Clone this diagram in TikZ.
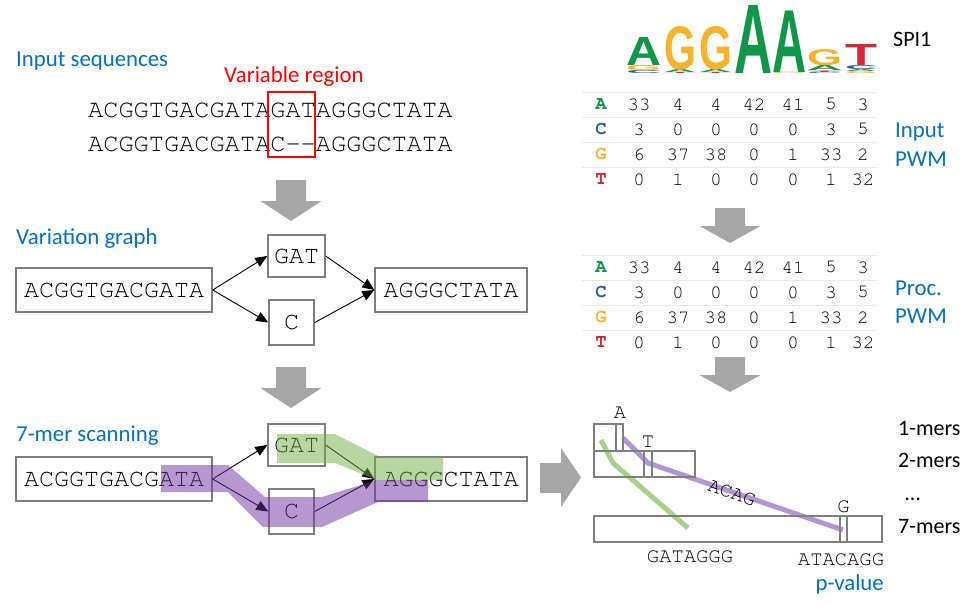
\documentclass[tikz,border=0pt]{standalone}
\usepackage[T1,TU]{fontenc}
\usepackage{fontspec}
\usepackage{graphicx}
\setmainfont{Carlito}
\newfontfamily\logofont{Liberation Sans}
\usetikzlibrary{arrows.meta}
\definecolor{labelblue}{RGB}{0,112,192}
\definecolor{varred}{RGB}{255,0,0}
\definecolor{boxgray}{RGB}{127,127,127}
\definecolor{arrowgray}{RGB}{166,166,166}
\definecolor{rulegray}{RGB}{232,232,232}
\definecolor{nucA}{RGB}{16,150,72}
\definecolor{nucC}{RGB}{37,92,153}
\definecolor{nucG}{RGB}{247,179,43}
\definecolor{nucT}{RGB}{214,40,57}
\definecolor{pathgreen}{RGB}{112,173,71}
\definecolor{pathpurple}{RGB}{112,48,160}
\definecolor{tracegreen}{RGB}{169,209,142}
\definecolor{tracepurple}{RGB}{178,150,210}
\newcommand\seqfont{\fontencoding{T1}\fontfamily{pcr}}

\begin{document}
\begin{tikzpicture}[x=1pt, y=-1pt,
    seqbox/.style={draw=boxgray, line width=1.4pt, minimum height=44pt, inner sep=0pt, font=\seqfont\fontsize{25}{30}\selectfont},
    edge/.style={-{Triangle[length=12pt,width=10pt]}, line width=0.9pt},
    steplabel/.style={text=labelblue, font=\fontsize{22.8}{27}\selectfont, anchor=base west, inner sep=0pt},
    sidelabel/.style={font=\fontsize{22}{26}\selectfont, anchor=base west, inner sep=0pt},
    seqtext/.style={font=\seqfont\fontsize{25.3}{30}\selectfont, anchor=base west, inner sep=0pt},
    pwmtext/.style={font=\seqfont\fontsize{18.9}{22}\selectfont, inner sep=0pt},
    kmertext/.style={font=\seqfont\fontsize{20.5}{24}\selectfont, anchor=base, inner sep=0pt},
    kbox/.style={draw=boxgray, line width=1.4pt},
    trace/.style={line width=5pt},
    blockarrow/.style={fill=arrowgray},
    logo/.style={inner sep=0pt, anchor=south west, font=\logofont\bfseries}]
\useasboundingbox (0,0) rectangle (975,613);

% input sequences
\node[steplabel] (inputlabel) at (16,66) {Input sequences};
\node[steplabel, text=varred] (varlabel) at (224,82) {Variable region};
\node[seqtext] (seqone) at (88,117) {ACGGTGACGATAGATAGGGCTATA};
\node[seqtext] (seqtwo) at (88,151) {ACGGTGACGATAC{-}{-}AGGGCTATA};
\node[draw=varred, line width=2pt, minimum width=47pt, minimum height=65pt] (varbox) at (291.5,124.5) {};

% down arrows
\foreach \ax/\ay/\sh/\hd in {291/180/21/20, 291/367/21/20, 730/208/18/17, 730/357/18/17}
  \fill[blockarrow] (\ax-15,\ay) -- (\ax+15,\ay) -- (\ax+15,\ay+\sh) -- (\ax+30.5,\ay+\sh)
    -- (\ax,\ay+\sh+\hd) -- (\ax-30.5,\ay+\sh) -- (\ax-15,\ay+\sh) -- cycle;
\fill[blockarrow] (540,463) -- (561,463) -- (561,448) -- (581,477.5) -- (561,507) -- (561,493) -- (540,493) -- cycle;

% variation graph and 7-mer scanning
\node[steplabel] (graphlabel) at (16,244) {Variation graph};
\node[steplabel] (scanlabel) at (16,441) {7-mer scanning};
\foreach \rw/\oy in {var/0, scan/189} {
  \node[seqbox, minimum width=196pt] (\rw-left) at (114,290+\oy) {ACGGTGACGATA};
  \node[seqbox, minimum width=57pt, minimum height=42pt] (\rw-gat) at (296.5,256+\oy) {GAT};
  \node[seqbox, minimum width=45pt, minimum height=45pt] (\rw-c) at (291.5,322.5+\oy) {C};
  \node[seqbox, minimum width=152pt] (\rw-right) at (451,290+\oy) {AGGGCTATA};
  \draw[edge] (\rw-left.east) -- (\rw-gat.west);
  \draw[edge] (\rw-left.east) -- (\rw-c.west);
  \draw[edge] (\rw-gat.east) -- (\rw-right.west);
  \draw[edge] (\rw-c.east) -- (\rw-right.west);
}
\fill[pathgreen, opacity=0.5] (277,434) -- (335,434) -- (380,457) -- (443,457) -- (443,480)
  -- (377,480) -- (335,463) -- (277,463) -- cycle;
\fill[pathpurple, opacity=0.5] (161,465) -- (228,465) -- (265,497) -- (322,497) -- (377,480)
  -- (428,480) -- (428,502) -- (378,502) -- (322,527) -- (263,527) -- (228,492) -- (161,492) -- cycle;

% motif logo
\foreach \lx/\ly/\lw/\lh/\lc/\lt [count=\i] in {
    626/74/35/3/nucC/C, 626/71/35/5/nucG/G, 626/66/35/28/nucA/A,
    664/74/32/1/nucT/T, 664/73/32/3/nucA/A, 664/70/32/43/nucG/G,
    699/74/33/1/nucT/T, 699/73/33/3/nucA/A, 699/70/33/43/nucG/G,
    734/74/38/68/nucA/A,
    772/74/34/1.5/nucG/G, 772/72.5/34/61.5/nucA/A,
    807/74/35/1.5/nucC/C, 807/72.5/35/1.5/nucT/T, 807/71/35/5/nucA/A, 807/66/35/16/nucG/G,
    845/74/32/2/nucG/G, 845/72/32/2/nucA/A, 845/70/32/4/nucC/C, 845/66/32/21/nucT/T}
  \node[logo, text=\lc] (logo\i) at (\lx,\ly) {\resizebox{\lw pt}{\lh pt}{\lt}};
\node[sidelabel] (motifname) at (893,46) {SPI1};

% weight matrices
\def\colx{{639,678,716,754,793,831,863}}
\foreach \ty in {92,255} {
  \foreach \nuc/\vals [count=\r from 0] in {A/{33,4,4,42,41,5,3}, C/{3,0,0,0,0,3,5}, G/{6,37,38,0,1,33,2}, T/{0,1,0,0,0,1,32}} {
    \draw[rulegray, line width=1pt] (582,\ty+25*\r) -- (877,\ty+25*\r);
    \node[pwmtext, text=nuc\nuc, font=\seqfont\bfseries\fontsize{18.9}{22}\selectfont] (pwm\ty\nuc) at (601,\ty+25*\r+12.5) {\nuc};
    \foreach \v [count=\k] in \vals {
      \pgfmathsetmacro\cx{\colx[\k-1]}
      \node[pwmtext] (pwm\ty\nuc\k) at (\cx,\ty+25*\r+12.5) {\v};
    }
  }
}
\node[steplabel] (inputpwm) at (895,137) {Input};
\node[steplabel] (inputpwmb) at (895,166) {PWM};
\node[steplabel] (procpwm) at (895,295) {Proc.};
\node[steplabel] (procpwmb) at (895,323) {PWM};

% k-mer tables
\draw[trace, tracegreen] (601,440) -- (613,463) -- (688,528);
\draw[trace, tracepurple] (623,438) -- (648,463) -- (843,530);
\draw[kbox] (594,424) rectangle (623,451) (616,424) -- (616,451);
\draw[kbox] (594,451) rectangle (695,477) (644,451) -- (644,477) (652,451) -- (652,477);
\draw[kbox] (594,516) rectangle (882,542) (840,516) -- (840,542) (847,516) -- (847,542);
\node[kmertext] (ka) at (620,418) {A};
\node[kmertext] (kt) at (648,447) {T};
\node[kmertext] (kg) at (843.5,512) {G};
\node[kmertext, anchor=center, rotate=-19] (kacag) at (732,493) {ACAG};
\node[kmertext] (kgreen) at (690,562) {GATAGGG};
\node[kmertext] (kpurple) at (841,565) {ATACAGG};
\node[sidelabel] (onemers) at (898,435) {1-mers};
\node[sidelabel] (twomers) at (898,467) {2-mers};
\node[sidelabel] (dotsmers) at (905,500) {\dots};
\node[sidelabel] (sevenmers) at (898,533) {7-mers};
\node[steplabel, anchor=base east] (pvalue) at (884,590) {p-value};
\end{tikzpicture}
\end{document}
